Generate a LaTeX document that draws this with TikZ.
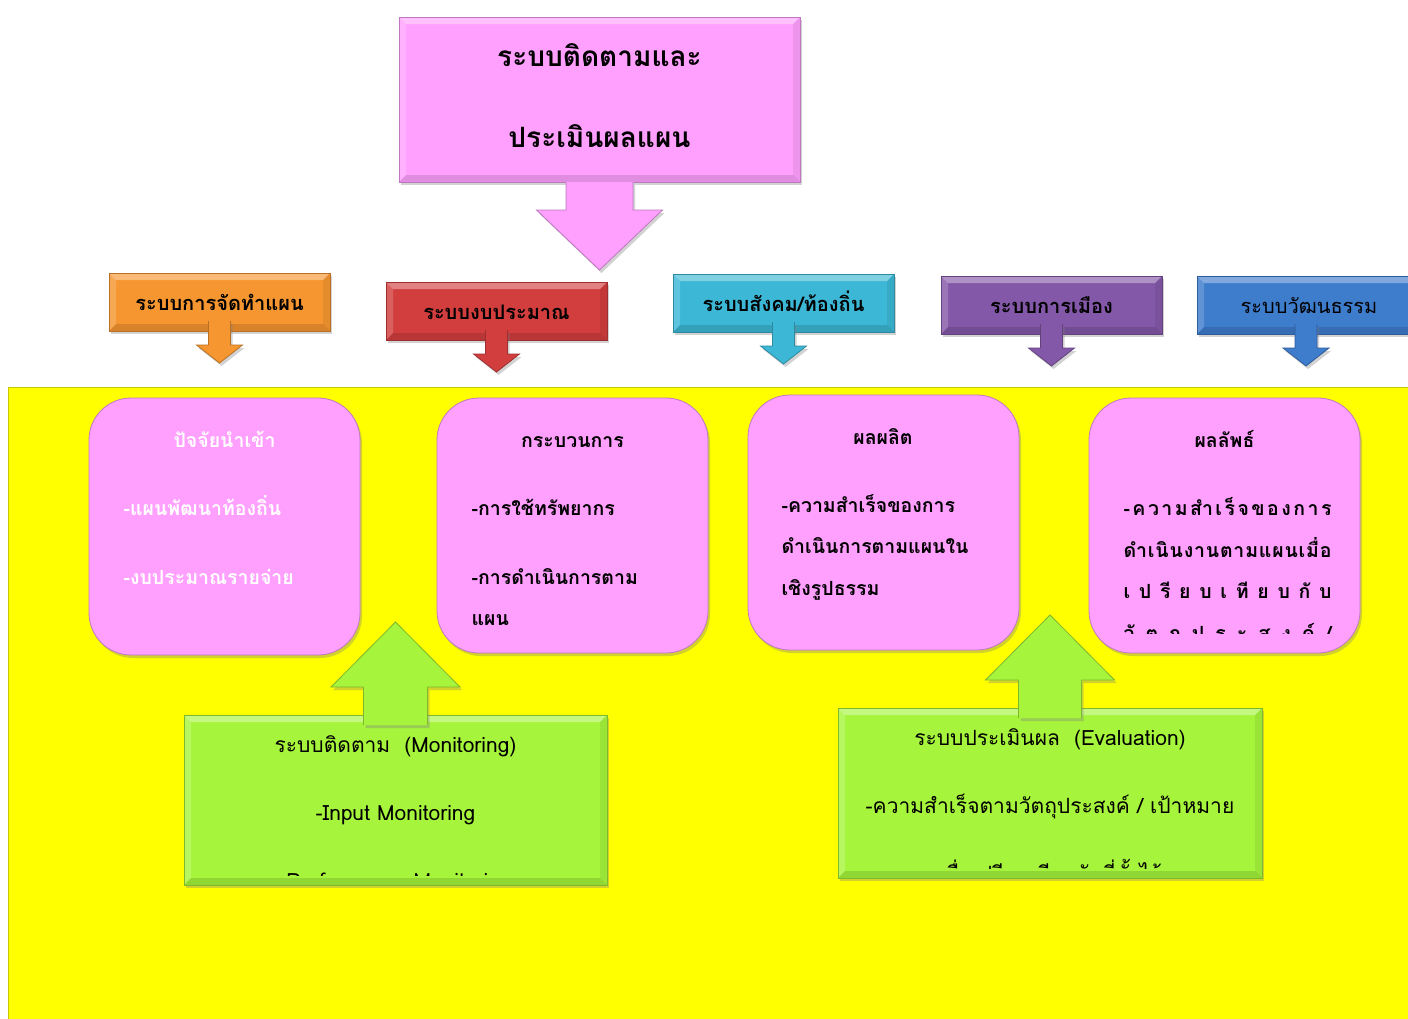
\documentclass[tikz,border=0pt]{standalone}
\usepackage{fontspec}
\newfontfamily\thai[Script=Thai]{Loma}
\usetikzlibrary{calc,shadows}
\definecolor{pk}{RGB}{255,160,255}
\definecolor{yl}{RGB}{255,255,0}
\definecolor{yld}{RGB}{200,200,0}
\definecolor{gr}{RGB}{166,245,60}
\definecolor{org}{RGB}{246,150,48}
\definecolor{rd}{RGB}{210,62,62}
\definecolor{cy}{RGB}{60,184,214}
\definecolor{pu}{RGB}{132,88,168}
\definecolor{bl}{RGB}{62,124,204}
\newcommand\blockarrow[7]{%
  \filldraw[#1] (#2) ++(-#3,0) -- ++(0,#4) -- ++(#3-#5,0) -- ++(#5,#6)
    -- ++(#5,{-1*(#6)}) -- ++(#3-#5,0) -- ++(0,{-1*(#4)});}
\tikzset{
  shad/.style={drop shadow={opacity=0.35,shadow xshift=2pt,shadow yshift=-3pt}},
  bevel/.style={path picture={
    \coordinate (bnw) at (path picture bounding box.north west);
    \coordinate (bne) at (path picture bounding box.north east);
    \coordinate (bsw) at (path picture bounding box.south west);
    \coordinate (bse) at (path picture bounding box.south east);
    \fill[white,opacity=.35] (bnw) -- (bne) -- ($(bne)+(-7,7)$) -- ($(bnw)+(7,7)$) -- cycle;
    \fill[white,opacity=.18] (bnw) -- ($(bnw)+(7,7)$) -- ($(bsw)+(7,-7)$) -- (bsw) -- cycle;
    \fill[black,opacity=.12] (bsw) -- (bse) -- ($(bse)+(-7,-7)$) -- ($(bsw)+(7,-7)$) -- cycle;
    \fill[black,opacity=.07] (bne) -- (bse) -- ($(bse)+(-7,-7)$) -- ($(bne)+(-7,7)$) -- cycle;
  }},
  flatbox/.style={rectangle, fill=#1, draw=#1!75!black, line width=0.8pt,
    inner sep=0pt, outer sep=0pt, anchor=north west, shad},
  roundbox/.style={flatbox=pk, rounded corners=42pt},
  arr/.style={fill=#1, draw=#1!75!black, line width=0.8pt, line join=miter, shad},
  toptext/.style={font=\thai\bfseries\fontsize{28}{32}\selectfont, anchor=base},
  lab/.style={font=\thai\bfseries\fontsize{20}{24}\selectfont, anchor=base},
  labthin/.style={font=\thai\fontsize{20}{24}\selectfont, anchor=base},
  ttl/.style={font=\thai\bfseries\fontsize{19.5}{23}\selectfont, anchor=base},
  item/.style={font=\thai\bfseries\fontsize{19.5}{23}\selectfont, anchor=base west},
  gtext/.style={font=\thai\fontsize{21}{25}\selectfont, anchor=base},
}
\begin{document}
\begin{tikzpicture}[x=1pt,y=-1pt]
\useasboundingbox (0,0) rectangle (1408,1018);
\fill[white] (0,0) rectangle (1408,1018);

% top box
\node[flatbox=pk, bevel, minimum width=401pt, minimum height=165pt] (top) at (399,17) {};
\node[toptext] (t1) at (599.5,66) {ระบบติดตามและ};
\node[toptext] (t2) at (599.5,147) {ประเมินผลแผน};
\blockarrow{arr=pk}{top.south}{33.5}{28}{63}{60}{1}

% row of systems
\node[flatbox=org, bevel, minimum width=221pt, minimum height=58pt] (s1) at (109,273) {};
\node[lab] (s1t) at (s1.center) [yshift=-8pt] {ระบบการจัดทำแผน};
\node[flatbox=rd, bevel, minimum width=221pt, minimum height=58pt] (s2) at (386,282) {};
\node[lab] (s2t) at (s2.center) [yshift=-8pt] {ระบบงบประมาณ};
\node[flatbox=cy, bevel, minimum width=221pt, minimum height=58pt] (s3) at (673,274) {};
\node[lab] (s3t) at (s3.center) [yshift=-8pt] {ระบบสังคม/ท้องถิ่น};
\node[flatbox=pu, bevel, minimum width=221pt, minimum height=58pt] (s4) at (941,276) {};
\node[lab] (s4t) at (s4.center) [yshift=-8pt] {ระบบการเมือง};
\node[flatbox=bl, bevel, minimum width=230pt, minimum height=58pt] (s5) at (1197,276) {};
\node[labthin] (s5t) at ($(s5.center)+(-3,8)$) {ระบบวัฒนธรรม};

\blockarrow{arr=org}{$(s1.south)+(0,-10)$}{11}{24}{23}{18}{1}
\blockarrow{arr=rd}{$(s2.south)+(0,-10)$}{11}{24}{23}{18}{1}
\blockarrow{arr=cy}{$(s3.south)+(0,-10)$}{11}{24}{23}{18}{1}
\blockarrow{arr=pu}{$(s4.south)+(0,-10)$}{11}{24}{23}{18}{1}
\blockarrow{arr=bl}{$(s5.south)+(-6,-10)$}{11}{24}{23}{18}{1}

% yellow area
\node[rectangle, fill=yl, draw=yld, line width=1pt, inner sep=0pt, anchor=north west,
  minimum width=1405pt, minimum height=640pt] (bg) at (8,387) {};

% pink rounded boxes
\node[roundbox, minimum width=271pt, minimum height=257pt] (in1) at (89,398) {};
\node[ttl, text=white] (in1t) at (224.5,447) {ปัจจัยนำเข้า};
\node[item, text=white] (in1a) at (120,515) {-แผนพัฒนาท้องถิ่น};
\node[item, text=white] (in1b) at (120,584) {-งบประมาณรายจ่าย};

\node[roundbox, minimum width=271pt, minimum height=255pt] (in2) at (437,398) {};
\node[ttl] (in2t) at (572.5,447) {กระบวนการ};
\node[item] (in2a) at (468,515) {-การใช้ทรัพยากร};
\node[item] (in2b) at (468,584) {-การดำเนินการตาม};
\node[item] (in2c) at (468,625) {แผน};

\node[roundbox, minimum width=271pt, minimum height=255pt] (in3) at (748,395) {};
\node[ttl] (in3t) at (883,444) {ผลผลิต};
\node[item] (in3a) at (778,512) {-ความสำเร็จของการ};
\node[item] (in3b) at (778,553) {ดำเนินการตามแผนใน};
\node[item] (in3c) at (778,595) {เชิงรูปธรรม};

\node[roundbox, minimum width=271pt, minimum height=255pt] (in4) at (1089,398) {};
\node[ttl] (in4t) at (1224.5,447) {ผลลัพธ์};
\begin{scope}
\clip (1089,398) rectangle (1360,633);
\node[item] (in4a) at (1120,515) {\hbox to 208pt{-\hfil ค\hfil ว\hfil า\hfil ม\hfil สำ\hfil เ\hfil ร็\hfil จ\hfil ข\hfil อ\hfil ง\hfil ก\hfil า\hfil ร}};
\node[item] (in4b) at (1120,557) {\hbox to 208pt{ดำ\hfil เ\hfil นิ\hfil น\hfil ง\hfil า\hfil น\hfil ต\hfil า\hfil ม\hfil แ\hfil ผ\hfil น\hfil เ\hfil มื่\hfil อ}};
\node[item] (in4c) at (1120,598) {\hbox to 208pt{เ\hfil ป\hfil รี\hfil ย\hfil บ\hfil เ\hfil ที\hfil ย\hfil บ\hfil กั\hfil บ}};
\node[item] (in4d) at (1120,640) {\hbox to 208pt{วั\hfil ต\hfil ถุ\hfil ป\hfil ร\hfil ะ\hfil ส\hfil ง\hfil ค์\hfil /}};
\end{scope}

% green boxes
\node[flatbox=gr, bevel, minimum width=423pt, minimum height=170pt] (g1) at (184,715) {};
\blockarrow{arr=gr}{$(g1.north)+(0,10)$}{32}{-38}{64.5}{-65}{1}
\node[gtext] (g1a) at (395.5,752) {ระบบติดตาม\ \ (Monitoring)};
\node[gtext] (g1b) at (395.5,820) {-Input Monitoring};
\begin{scope}
\clip (184,715) rectangle (607,875);
\node[gtext] (g1c) at (395.5,888) {-Performance Monitoring};
\end{scope}

\node[flatbox=gr, bevel, minimum width=424pt, minimum height=170pt] (g2) at (838,708) {};
\blockarrow{arr=gr}{$(g2.north)+(0,10)$}{31.5}{-38}{64.5}{-65}{1}
\node[gtext] (g2a) at (1050,745) {ระบบประเมินผล\ \ (Evaluation)};
\node[gtext] (g2b) at (1050,813) {-ความสำเร็จตามวัตถุประสงค์ / เป้าหมาย};
\begin{scope}
\clip (838,708) rectangle (1262,868);
\node[gtext] (g2c) at (1050,881) {เมื่อเปรียบเทียบกับที่ตั้งไว้};
\end{scope}
\end{tikzpicture}
\end{document}
